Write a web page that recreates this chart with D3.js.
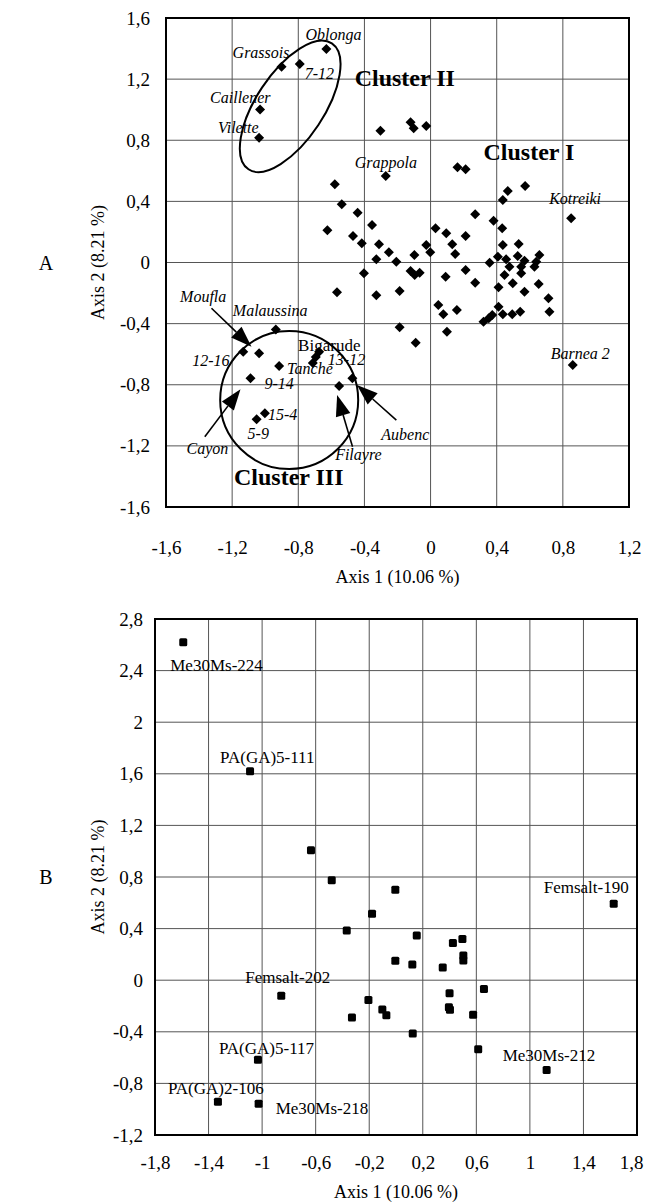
<!DOCTYPE html>
<html>
<head>
<meta charset="utf-8">
<script src="https://cdn.jsdelivr.net/npm/d3@7"></script>
<style>
  body { margin: 0; background: #fff; }
  svg { display: block; }
</style>
</head>
<body>
<div id="chart"></div>
<script>
const width = 645, height = 1203;
const serif = '"Liberation Serif", "Times New Roman", serif';

// ---------- Panel A : cultivars ----------
const xTicksA = [-1.6, -1.2, -0.8, -0.4, 0, 0.4, 0.8, 1.2];
const yTicksA = [-1.6, -1.2, -0.8, -0.4, 0, 0.4, 0.8, 1.2, 1.6];

const clusterII = [
  {name: 'Oblonga', x: -0.630, y: 1.397},
  {name: '7-12', x: -0.791, y: 1.299},
  {name: 'Grassois', x: -0.901, y: 1.281},
  {name: 'Caillener', x: -1.031, y: 1.002},
  {name: 'Vilette', x: -1.037, y: 0.817}
];

const clusterINamed = [
  {name: 'Grappola', x: -0.271, y: 0.566},
  {name: 'Kotreiki', x: 0.850, y: 0.289},
  {name: 'Barnea 2', x: 0.860, y: -0.671}
];

const clusterI = [
  [-0.303, 0.862], [-0.121, 0.917], [-0.102, 0.878], [-0.026, 0.893], [0.163, 0.623],
  [0.212, 0.610], [-0.579, 0.512], [0.572, 0.501], [0.467, 0.468], [0.437, 0.409],
  [-0.537, 0.381], [-0.441, 0.326], [0.270, 0.315], [-0.624, 0.211], [-0.354, 0.245],
  [0.381, 0.273], [0.433, 0.224], [0.030, 0.224], [0.095, 0.191], [0.212, 0.173],
  [-0.469, 0.173], [-0.416, 0.126], [-0.312, 0.119], [0.131, 0.119], [-0.026, 0.114],
  [0.437, 0.114], [0.533, 0.121], [-0.252, 0.067], [0.149, 0.056], [-0.002, 0.067],
  [-0.098, 0.049], [0.658, 0.049], [-0.328, 0.021], [-0.207, 0.005], [0.407, 0.038],
  [0.527, 0.042], [0.457, 0.021], [0.357, -0.001], [0.568, 0.012], [0.639, 0.005],
  [0.628, -0.028], [0.477, -0.028], [0.548, -0.028], [0.212, -0.049], [-0.121, -0.056],
  [-0.066, -0.067], [-0.096, -0.082], [-0.403, -0.071], [0.447, -0.082], [0.548, -0.071],
  [0.091, -0.093], [0.270, -0.132], [0.497, -0.136], [0.411, -0.162], [0.654, -0.141],
  [-0.566, -0.195], [-0.328, -0.215], [-0.187, -0.187], [0.568, -0.191], [0.713, -0.234],
  [0.047, -0.278], [0.077, -0.339], [0.159, -0.311], [0.411, -0.289], [0.437, -0.339],
  [0.494, -0.339], [0.542, -0.322], [0.373, -0.344], [0.320, -0.388], [0.352, -0.365],
  [0.719, -0.322], [-0.187, -0.424], [0.099, -0.453], [-0.090, -0.525]
];

const clusterIII = [
  {name: 'Malaussina', x: -0.936, y: -0.439},
  {name: '12-16', x: -1.133, y: -0.584},
  {name: 'Moufla', x: -1.037, y: -0.594},
  {name: 'Tanche', x: -0.916, y: -0.677},
  {name: '9-14', x: -1.089, y: -0.758},
  {name: 'Bigarude', x: -0.674, y: -0.584},
  {name: '', x: -0.694, y: -0.619},
  {name: '13-12', x: -0.712, y: -0.658},
  {name: 'Aubenc', x: -0.473, y: -0.758},
  {name: 'Filayre', x: -0.553, y: -0.808},
  {name: '15-4', x: -1.002, y: -0.987},
  {name: '5-9', x: -1.052, y: -1.026}
];

// label placement (pixel offsets from the point), kept apart from the values
const labelsA = [
  {text: 'Oblonga', of: 'Oblonga', dx: -21, dy: -9},
  {text: 'Grassois', of: 'Grassois', dx: -49, dy: -9},
  {text: '7-12', of: '7-12', dx: 5, dy: 15},
  {text: 'Caillener', of: 'Caillener', dx: -50, dy: -6},
  {text: 'Vilette', of: 'Vilette', dx: -41, dy: -5},
  {text: 'Grappola', of: 'Grappola', dx: -31, dy: -8},
  {text: 'Kotreiki', of: 'Kotreiki', dx: -22, dy: -14},
  {text: 'Barnea 2', of: 'Barnea 2', dx: -22, dy: -6},
  {text: 'Malaussina', of: 'Malaussina', dx: -43, dy: -14},
  {text: '12-16', of: '12-16', dx: -51, dy: 14},
  {text: 'Moufla', of: 'Moufla', dx: -79, dy: -51},
  {text: 'Tanche', of: 'Tanche', dx: 8, dy: 8},
  {text: '9-14', of: '9-14', dx: 14, dy: 11},
  {text: 'Bigarude', of: 'Bigarude', dx: -21, dy: -1, upright: true},
  {text: '13-12', of: '13-12', dx: 15, dy: 2},
  {text: '15-4', of: '15-4', dx: 3, dy: 7},
  {text: '5-9', of: '5-9', dx: -9, dy: 20},
  {text: 'Cayon', of: '9-14', dx: -64, dy: 76},
  {text: 'Filayre', of: 'Filayre', dx: -4, dy: 74},
  {text: 'Aubenc', of: 'Aubenc', dx: 29, dy: 62}
];

const arrowsA = [
  {of: 'Moufla', from: [-47.6, -45], to: [-7.6, -6.6]},
  {of: '9-14', from: [-45.7, 58.4], to: [-10, 11]},
  {of: 'Filayre', from: [13.4, 60.7], to: [-2, 9]},
  {of: 'Aubenc', from: [44, 41.7], to: [4.6, 6.7]}
];

const clusterNames = [
  {text: 'Cluster II', x: -0.459, y: 1.155},
  {text: 'Cluster I', x: 0.320, y: 0.671},
  {text: 'Cluster III', x: -1.189, y: -1.456}
];

// ---------- Panel B : loci ----------
const xTicksB = [-1.8, -1.4, -1, -0.6, -0.2, 0.2, 0.6, 1, 1.4, 1.8];
const yTicksB = [-1.2, -0.8, -0.4, 0, 0.4, 0.8, 1.2, 1.6, 2, 2.4, 2.8];

const lociNamed = [
  {name: 'Me30Ms-224', x: -1.589, y: 2.619},
  {name: 'PA(GA)5-111', x: -1.090, y: 1.620},
  {name: 'Femsalt-190', x: 1.626, y: 0.593},
  {name: 'Femsalt-202', x: -0.857, y: -0.120},
  {name: 'PA(GA)5-117', x: -1.031, y: -0.616},
  {name: 'PA(GA)2-106', x: -1.330, y: -0.942},
  {name: 'Me30Ms-218', x: -1.026, y: -0.957},
  {name: 'Me30Ms-212', x: 1.125, y: -0.696}
];

const loci = [
  [-0.635, 1.007], [-0.480, 0.774], [-0.368, 0.385], [-0.179, 0.515], [-0.005, 0.701],
  [-0.005, 0.150], [0.155, 0.347], [0.425, 0.289], [0.496, 0.320], [0.503, 0.191],
  [0.503, 0.153], [0.122, 0.122], [0.349, 0.098], [0.657, -0.068], [0.400, -0.102],
  [0.395, -0.209], [0.403, -0.230], [0.576, -0.267], [-0.206, -0.154], [-0.102, -0.228],
  [-0.072, -0.272], [-0.329, -0.289], [0.125, -0.414], [0.614, -0.535]
];

const labelsB = {
  'Me30Ms-224': [-13, 29],
  'PA(GA)5-111': [-30, -8],
  'Femsalt-190': [-70, -11],
  'Femsalt-202': [-36, -13],
  'PA(GA)5-117': [-39, -6],
  'PA(GA)2-106': [-50, -8],
  'Me30Ms-218': [17, 10],
  'Me30Ms-212': [-44, -9]
};

const fmt = d => Math.abs(d) < 1e-9 ? '0' : String(+d.toFixed(1)).replace('.', ',');

const svg = d3.select('#chart').append('svg')
  .attr('width', width)
  .attr('height', height)
  .attr('viewBox', [0, 0, width, height])
  .style('font-family', serif);

function drawPanel(p) {
  const x = d3.scaleLinear().domain(p.xDomain).range([p.left, p.right]);
  const y = d3.scaleLinear().domain(p.yDomain).range([p.bottom, p.top]);
  const g = svg.append('g');

  // grid
  g.append('g').selectAll('line').data(p.xTicks).join('line')
      .attr('x1', d => x(d)).attr('x2', d => x(d))
      .attr('y1', p.top).attr('y2', p.bottom)
      .attr('stroke', '#555').attr('stroke-width', 1);
  g.append('g').selectAll('line').data(p.yTicks).join('line')
      .attr('x1', p.left).attr('x2', p.right)
      .attr('y1', d => y(d)).attr('y2', d => y(d))
      .attr('stroke', '#555').attr('stroke-width', 1);

  // frame
  g.append('rect')
      .attr('x', p.left).attr('y', p.top)
      .attr('width', p.right - p.left).attr('height', p.bottom - p.top)
      .attr('fill', 'none').attr('stroke', '#000').attr('stroke-width', 2);

  // tick labels
  const xAxis = g.append('g')
      .attr('transform', `translate(0,${p.bottom})`)
      .call(d3.axisBottom(x).tickValues(p.xTicks).tickFormat(fmt).tickSize(0).tickPadding(p.xPad))
      .call(a => a.select('.domain').remove())
      .attr('font-family', serif).attr('font-size', 19);
  // keep the last label inside the page
  xAxis.selectAll('.tick:last-of-type text')
      .attr('dx', d => Math.min(0, width - 2 - x(d) - 12));
  g.append('g')
      .attr('transform', `translate(${p.left},0)`)
      .call(d3.axisLeft(y).tickValues(p.yTicks).tickFormat(fmt).tickSize(0).tickPadding(p.yPad))
      .call(a => a.select('.domain').remove())
      .attr('font-family', serif).attr('font-size', 19);

  // axis titles
  g.append('text')
      .attr('x', (p.left + p.right) / 2).attr('y', p.xTitleY)
      .attr('text-anchor', 'middle').attr('font-size', 18)
      .text('Axis 1 (10.06 %)');
  g.append('text')
      .attr('transform', `translate(104,${(p.top + p.bottom) / 2}) rotate(-90)`)
      .attr('text-anchor', 'middle').attr('font-size', 18)
      .text('Axis 2 (8.21 %)');

  // panel letter
  g.append('text')
      .attr('x', 46).attr('y', (p.top + p.bottom) / 2 + 7)
      .attr('text-anchor', 'middle').attr('font-size', 20)
      .text(p.letter);

  return {x, y, g};
}

// ----- draw A -----
const A = drawPanel({
  letter: 'A', xDomain: [-1.6, 1.2], yDomain: [-1.6, 1.6],
  left: 166, right: 629, top: 18, bottom: 507,
  xTicks: xTicksA, yTicks: yTicksA, xPad: 34, yPad: 16, xTitleY: 583
});

const allA = [...clusterII, ...clusterINamed, ...clusterIII,
  ...clusterI.map(([x, y]) => ({name: '', x, y}))];
const byName = new Map(allA.filter(d => d.name).map(d => [d.name, d]));

// cluster outlines
A.g.append('ellipse')
    .attr('cx', 0).attr('cy', 0).attr('rx', 75.5).attr('ry', 33.8)
    .attr('transform', `translate(${A.x(-0.849)},${A.y(1.022)}) rotate(-56.5)`)
    .attr('fill', 'none').attr('stroke', '#000').attr('stroke-width', 2);
A.g.append('circle')
    .attr('cx', A.x(-0.855)).attr('cy', A.y(-0.9)).attr('r', 69)
    .attr('fill', 'none').attr('stroke', '#000').attr('stroke-width', 2);

// diamonds
A.g.append('g').selectAll('path').data(allA).join('path')
    .attr('d', d3.symbol(d3.symbolSquare, 50))
    .attr('transform', d => `translate(${A.x(d.x)},${A.y(d.y)}) rotate(45)`)
    .attr('fill', '#000');

// arrows
arrowsA.forEach(a => {
  const p = byName.get(a.of);
  const px = A.x(p.x), py = A.y(p.y);
  const sx = px + a.from[0], sy = py + a.from[1];
  const tx = px + a.to[0], ty = py + a.to[1];
  const len = Math.hypot(tx - sx, ty - sy);
  const ux = (tx - sx) / len, uy = (ty - sy) / len;
  const L = 21, w = 7.5;
  const bx = tx - ux * L, by = ty - uy * L;
  A.g.append('line')
      .attr('x1', sx).attr('y1', sy).attr('x2', bx).attr('y2', by)
      .attr('stroke', '#000').attr('stroke-width', 1.6);
  A.g.append('path')
      .attr('d', `M${tx},${ty}L${bx - uy * w},${by + ux * w}L${bx + uy * w},${by - ux * w}Z`)
      .attr('fill', '#000');
});

// labels
A.g.append('g').selectAll('text').data(labelsA).join('text')
    .attr('x', d => A.x(byName.get(d.of).x) + d.dx)
    .attr('y', d => A.y(byName.get(d.of).y) + d.dy)
    .attr('font-size', d => d.upright ? 17 : 16)
    .attr('font-style', d => d.upright ? 'normal' : 'italic')
    .text(d => d.text);

A.g.append('g').selectAll('text').data(clusterNames).join('text')
    .attr('x', d => A.x(d.x)).attr('y', d => A.y(d.y))
    .attr('font-size', 24).attr('font-weight', 'bold')
    .text(d => d.text);

// ----- draw B -----
const B = drawPanel({
  letter: 'B', xDomain: [-1.8, 1.8], yDomain: [-1.2, 2.8],
  left: 155, right: 637, top: 619, bottom: 1135,
  xTicks: xTicksB, yTicks: yTicksB, xPad: 21, yPad: 12, xTitleY: 1198
});

const allB = [...lociNamed, ...loci.map(([x, y]) => ({name: '', x, y}))];

B.g.append('g').selectAll('rect').data(allB).join('rect')
    .attr('x', d => B.x(d.x) - 4).attr('y', d => B.y(d.y) - 4)
    .attr('width', 8).attr('height', 8).attr('rx', 1.5)
    .attr('fill', '#000');

B.g.append('g').selectAll('text').data(lociNamed).join('text')
    .attr('x', d => B.x(d.x) + labelsB[d.name][0])
    .attr('y', d => B.y(d.y) + labelsB[d.name][1])
    .attr('font-size', 17)
    .text(d => d.name);
</script>
</body>
</html>
